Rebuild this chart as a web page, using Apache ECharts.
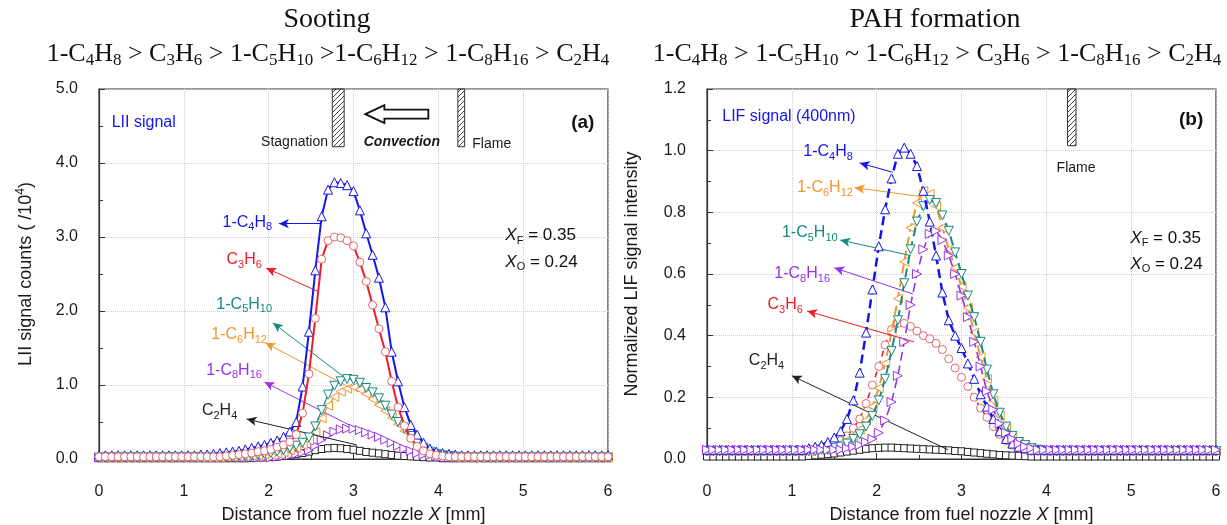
<!DOCTYPE html>
<html><head><meta charset="utf-8">
<script src="https://cdn.jsdelivr.net/npm/echarts@6/dist/echarts.min.js"></script>
<style>html,body{margin:0;padding:0;background:#fff}#chart{width:1227px;height:525px}</style>
</head><body><div id="chart"></div>
<script>
// Sampling positions along the burner axis [mm]
const positions = [0,0.075,0.15,0.225,0.3,0.375,0.45,0.525,0.6,0.675,
  0.75,0.825,0.9,0.975,1.05,1.125,1.2,1.275,1.35,1.425,
  1.5,1.575,1.65,1.725,1.8,1.875,1.95,2.025,2.1,2.175,
  2.25,2.325,2.4,2.475,2.55,2.625,2.7,2.775,2.85,2.925,
  3.0,3.075,3.15,3.225,3.3,3.375,3.45,3.525,3.6,3.675,
  3.75,3.825,3.9,3.975,4.05,4.125,4.2,4.275,4.35,4.425,
  4.5,4.575,4.65,4.725,4.8,4.875,4.95,5.025,5.1,5.175,
  5.25,5.325,5.4,5.475,5.55,5.625,5.7,5.775,5.85,5.925,
  6.0];

// (a) LII signal counts (/10^4)
const liiC4H8 = [0.05,0.05,0.05,0.05,0.05,0.05,0.05,0.05,0.05,0.05,
  0.05,0.05,0.05,0.05,0.05,0.05,0.06,0.06,0.07,0.08,
  0.09,0.10,0.11,0.13,0.15,0.17,0.19,0.22,0.25,0.30,
  0.37,0.50,0.98,1.72,2.55,3.28,3.64,3.74,3.73,3.70,
  3.62,3.36,3.05,2.76,2.45,2.05,1.45,1.05,0.70,0.46,
  0.33,0.22,0.14,0.10,0.08,0.07,0.06,0.05,0.05,0.05,
  0.05,0.05,0.05,0.05,0.05,0.05,0.05,0.05,0.05,0.05,
  0.05,0.05,0.05,0.05,0.05,0.05,0.05,0.05,0.05,0.05,
  0.05];
const liiC3H6 = [0.03,0.03,0.03,0.03,0.03,0.03,0.03,0.03,0.03,0.03,
  0.03,0.03,0.03,0.03,0.03,0.03,0.03,0.03,0.03,0.03,
  0.04,0.05,0.06,0.07,0.08,0.10,0.11,0.13,0.16,0.19,
  0.23,0.33,0.62,1.15,1.90,2.70,2.95,3.00,2.99,2.95,
  2.88,2.66,2.40,2.08,1.76,1.45,1.05,0.70,0.45,0.28,
  0.17,0.11,0.07,0.05,0.04,0.03,0.03,0.03,0.03,0.03,
  0.03,0.03,0.03,0.03,0.03,0.03,0.03,0.03,0.03,0.03,
  0.03,0.03,0.03,0.03,0.03,0.03,0.03,0.03,0.03,0.03,
  0.03];
const liiC5H10 = [0.02,0.02,0.02,0.02,0.02,0.02,0.02,0.02,0.02,0.02,
  0.02,0.02,0.02,0.02,0.02,0.02,0.02,0.02,0.02,0.02,
  0.03,0.03,0.04,0.04,0.05,0.06,0.07,0.08,0.10,0.12,
  0.15,0.18,0.22,0.29,0.44,0.66,0.87,0.99,1.05,1.08,
  1.07,1.03,0.96,0.90,0.82,0.72,0.60,0.50,0.41,0.31,
  0.22,0.15,0.10,0.07,0.05,0.04,0.03,0.02,0.02,0.02,
  0.02,0.02,0.02,0.02,0.02,0.02,0.02,0.02,0.02,0.02,
  0.02,0.02,0.02,0.02,0.02,0.02,0.02,0.02,0.02,0.02,
  0.02];
const liiC6H12 = [0.02,0.02,0.02,0.02,0.02,0.02,0.02,0.02,0.02,0.02,
  0.02,0.02,0.02,0.02,0.02,0.02,0.02,0.02,0.02,0.02,
  0.03,0.03,0.035,0.04,0.045,0.05,0.06,0.065,0.075,0.09,
  0.12,0.15,0.19,0.25,0.36,0.55,0.72,0.84,0.91,0.95,
  0.97,0.94,0.88,0.81,0.73,0.65,0.56,0.47,0.38,0.29,
  0.20,0.13,0.08,0.06,0.04,0.03,0.02,0.02,0.02,0.02,
  0.02,0.02,0.02,0.02,0.02,0.02,0.02,0.02,0.02,0.02,
  0.02,0.02,0.02,0.02,0.02,0.02,0.02,0.02,0.02,0.02,
  0.02];
const liiC8H16 = [0.02,0.02,0.02,0.02,0.02,0.02,0.02,0.02,0.02,0.02,
  0.02,0.02,0.02,0.02,0.02,0.02,0.02,0.02,0.02,0.02,
  0.02,0.02,0.02,0.02,0.02,0.02,0.02,0.02,0.03,0.04,
  0.05,0.07,0.09,0.12,0.18,0.26,0.32,0.37,0.40,0.41,
  0.41,0.39,0.36,0.33,0.30,0.26,0.22,0.18,0.14,0.11,
  0.08,0.06,0.05,0.04,0.03,0.02,0.02,0.02,0.02,0.02,
  0.02,0.02,0.02,0.02,0.02,0.02,0.02,0.02,0.02,0.02,
  0.02,0.02,0.02,0.02,0.02,0.02,0.02,0.02,0.02,0.02,
  0.02];
const liiC2H4 = [0.01,0.01,0.01,0.01,0.01,0.01,0.01,0.01,0.01,0.01,
  0.01,0.01,0.01,0.01,0.01,0.01,0.01,0.01,0.01,0.01,
  0.01,0.01,0.01,0.01,0.015,0.02,0.02,0.025,0.03,0.04,
  0.05,0.065,0.08,0.10,0.12,0.135,0.145,0.15,0.145,0.135,
  0.125,0.11,0.095,0.085,0.075,0.065,0.055,0.045,0.04,0.035,
  0.03,0.025,0.02,0.02,0.01,0.01,0.01,0.01,0.01,0.01,
  0.01,0.01,0.01,0.01,0.01,0.01,0.01,0.01,0.01,0.01,
  0.01,0.01,0.01,0.01,0.01,0.01,0.01,0.01,0.01,0.01,
  0.01];

// (b) Normalized LIF signal intensity (400 nm)
const lifC4H8 = [0.03,0.03,0.03,0.03,0.03,0.03,0.03,0.03,0.03,0.03,
  0.03,0.03,0.03,0.03,0.03,0.03,0.035,0.04,0.045,0.055,
  0.07,0.09,0.13,0.19,0.28,0.41,0.55,0.69,0.81,0.91,
  0.99,1.01,0.99,0.95,0.87,0.77,0.66,0.54,0.45,0.40,
  0.36,0.31,0.26,0.21,0.17,0.13,0.09,0.065,0.05,0.04,
  0.035,0.03,0.03,0.03,0.03,0.03,0.03,0.03,0.03,0.03,
  0.03,0.03,0.03,0.03,0.03,0.03,0.03,0.03,0.03,0.03,
  0.03,0.03,0.03,0.03,0.03,0.03,0.03,0.03,0.03,0.03,
  0.03];
const lifC6H12 = [0.025,0.025,0.025,0.025,0.025,0.025,0.025,0.025,0.025,0.025,
  0.025,0.025,0.025,0.025,0.025,0.025,0.025,0.03,0.03,0.035,
  0.04,0.05,0.06,0.075,0.095,0.125,0.17,0.23,0.31,0.41,
  0.52,0.64,0.75,0.83,0.87,0.86,0.82,0.75,0.68,0.62,
  0.56,0.49,0.41,0.33,0.26,0.19,0.14,0.10,0.07,0.055,
  0.045,0.035,0.03,0.025,0.025,0.025,0.025,0.025,0.025,0.025,
  0.025,0.025,0.025,0.025,0.025,0.025,0.025,0.025,0.025,0.025,
  0.025,0.025,0.025,0.025,0.025,0.025,0.025,0.025,0.025,0.025,
  0.025];
const lifC5H10 = [0.025,0.025,0.025,0.025,0.025,0.025,0.025,0.025,0.025,0.025,
  0.025,0.025,0.025,0.025,0.025,0.025,0.025,0.025,0.03,0.03,
  0.035,0.04,0.05,0.065,0.08,0.105,0.14,0.19,0.26,0.35,
  0.45,0.57,0.68,0.77,0.82,0.84,0.83,0.79,0.74,0.67,
  0.60,0.53,0.46,0.38,0.29,0.21,0.15,0.105,0.075,0.055,
  0.045,0.035,0.03,0.025,0.025,0.025,0.025,0.025,0.025,0.025,
  0.025,0.025,0.025,0.025,0.025,0.025,0.025,0.025,0.025,0.025,
  0.025,0.025,0.025,0.025,0.025,0.025,0.025,0.025,0.025,0.025,
  0.025];
const lifC8H16 = [0.03,0.03,0.03,0.03,0.03,0.03,0.03,0.03,0.03,0.03,
  0.03,0.03,0.03,0.03,0.03,0.03,0.03,0.03,0.03,0.03,
  0.03,0.03,0.035,0.04,0.045,0.055,0.065,0.085,0.125,0.185,
  0.27,0.38,0.50,0.60,0.68,0.73,0.74,0.71,0.66,0.60,
  0.53,0.46,0.38,0.30,0.22,0.16,0.115,0.085,0.065,0.05,
  0.04,0.035,0.03,0.03,0.03,0.03,0.03,0.03,0.03,0.03,
  0.03,0.03,0.03,0.03,0.03,0.03,0.03,0.03,0.03,0.03,
  0.03,0.03,0.03,0.03,0.03,0.03,0.03,0.03,0.03,0.03,
  0.03];
const lifC3H6 = [0.025,0.025,0.025,0.025,0.025,0.025,0.025,0.025,0.025,0.025,
  0.025,0.025,0.025,0.025,0.025,0.025,0.03,0.03,0.035,0.04,
  0.05,0.06,0.075,0.10,0.13,0.18,0.24,0.30,0.37,0.42,
  0.44,0.44,0.43,0.415,0.40,0.39,0.375,0.355,0.325,0.295,
  0.265,0.235,0.20,0.165,0.135,0.105,0.08,0.06,0.045,0.035,
  0.03,0.025,0.025,0.025,0.025,0.025,0.025,0.025,0.025,0.025,
  0.025,0.025,0.025,0.025,0.025,0.025,0.025,0.025,0.025,0.025,
  0.025,0.025,0.025,0.025,0.025,0.025,0.025,0.025,0.025,0.025,
  0.025];
const lifC2H4 = [0.008,0.008,0.008,0.008,0.008,0.008,0.008,0.008,0.008,0.008,
  0.008,0.008,0.008,0.008,0.008,0.008,0.01,0.012,0.014,0.016,
  0.018,0.021,0.024,0.027,0.03,0.033,0.035,0.036,0.037,0.037,
  0.036,0.035,0.034,0.033,0.032,0.031,0.03,0.029,0.028,0.026,
  0.025,0.023,0.021,0.019,0.017,0.015,0.013,0.012,0.011,0.01,
  0.009,0.008,0.008,0.008,0.008,0.008,0.008,0.008,0.008,0.008,
  0.008,0.008,0.008,0.008,0.008,0.008,0.008,0.008,0.008,0.008,
  0.008,0.008,0.008,0.008,0.008,0.008,0.008,0.008,0.008,0.008,
  0.008];

const SANS = '"Liberation Sans", Arial, sans-serif';
const SERIF = '"Liberation Serif", "Times New Roman", serif';
const BLUE = '#1616e8', RED = '#e8202a', RED_MK = '#e2686c', TEAL = '#178a82',
      ORANGE = '#f2952c', PURPLE = '#9634ea', BLACK = '#222222';

const pairs = vals => positions.map((x, i) => [x, vals[i]]);

function line(grid, name, vals, color, opts) {
  return {
    type: 'line', name, xAxisIndex: grid, yAxisIndex: grid,
    data: pairs(vals), showAllSymbol: true, silent: true, animation: false,
    symbol: opts.symbol, symbolSize: opts.size, symbolRotate: opts.rot || 0,
    itemStyle: { color: '#ffffff', borderColor: opts.markColor || color, borderWidth: 1 },
    lineStyle: { color, width: opts.width, type: opts.dash || 'solid' },
    emphasis: { disabled: true },
    z: opts.z,
    markLine: {
      silent: true, animation: false, symbol: ['none', 'arrow'], symbolSize: [7, 10],
      label: { show: false }, emphasis: { disabled: true },
      lineStyle: { color, width: 1, type: 'solid' },
      data: [[{ coord: opts.arrow[0] }, { coord: opts.arrow[1] }]]
    }
  };
}

const dash = [9, 5];
const series = [
  line(0, '1-C2H4', liiC2H4, BLACK, { symbol: 'rect', size: 7, width: 1, z: 2, arrow: [[3.04, 0.19], [1.74, 0.54]] }),
  line(0, '1-C8H16', liiC8H16, PURPLE, { symbol: 'triangle', rot: -90, size: 9, width: 1.2, z: 3, arrow: [[2.95, 0.46], [1.95, 1.04]] }),
  line(0, '1-C6H12', liiC6H12, ORANGE, { symbol: 'triangle', rot: 90, size: 9, width: 1.2, z: 4, arrow: [[2.95, 0.97], [1.96, 1.57]] }),
  line(0, '1-C5H10', liiC5H10, TEAL, { symbol: 'triangle', rot: 180, size: 9, width: 1.2, z: 5, arrow: [[2.92, 1.08], [2.05, 1.84]] }),
  line(0, '1-C4H8', liiC4H8, BLUE, { symbol: 'triangle', size: 9, width: 2, z: 6, arrow: [[2.62, 3.18], [2.12, 3.18]] }),
  line(0, 'C3H6', liiC3H6, RED, { symbol: 'circle', size: 8, width: 2, markColor: RED_MK, z: 7, arrow: [[2.59, 2.26], [1.97, 2.58]] }),

  line(1, 'C2H4', lifC2H4, BLACK, { symbol: 'rect', size: 7, width: 1.2, dash, z: 2, arrow: [[2.84, 0.03], [1.0, 0.27]] }),
  line(1, 'C3H6', lifC3H6, RED, { symbol: 'circle', size: 8, width: 1.6, dash: [6, 5], markColor: RED_MK, z: 3, arrow: [[2.44, 0.38], [1.18, 0.48]] }),
  line(1, '1-C6H12', lifC6H12, ORANGE, { symbol: 'triangle', rot: 90, size: 9, width: 2, dash, z: 4, arrow: [[2.55, 0.85], [1.74, 0.88]] }),
  line(1, '1-C5H10', lifC5H10, TEAL, { symbol: 'triangle', rot: 180, size: 9, width: 2, dash, z: 5, arrow: [[2.40, 0.66], [1.57, 0.71]] }),
  line(1, '1-C4H8', lifC4H8, BLUE, { symbol: 'triangle', size: 9, width: 2.5, dash, z: 6, arrow: [[2.19, 0.93], [1.80, 0.96]] }),
  line(1, '1-C8H16', lifC8H16, PURPLE, { symbol: 'triangle', rot: -90, size: 9, width: 1.6, dash, z: 7, arrow: [[2.43, 0.535], [1.50, 0.62]] })
];

const axisText = { fontFamily: SANS, fontSize: 16, color: '#1a1a1a' };
function xAxis(grid) {
  return {
    type: 'value', gridIndex: grid, min: 0, max: 6, interval: 1,
    axisLine: { show: true, lineStyle: { color: '#333', width: 1.2 } },
    axisTick: { show: true, inside: true, length: 6, lineStyle: { color: '#333' } },
    minorTick: { show: true, splitNumber: 2, length: 4, lineStyle: { color: '#333' } },
    axisLabel: Object.assign({ margin: 25 }, axisText),
    splitLine: { show: true, lineStyle: { color: '#cdcdcd', type: 'dotted', width: 1 } },
    name: '{n|Distance from fuel nozzle }{i|X}{n| [mm]}',
    nameLocation: 'middle', nameGap: 47,
    nameTextStyle: { rich: {
      n: { fontFamily: SANS, fontSize: 18, color: '#1a1a1a' },
      i: { fontFamily: SANS, fontSize: 18, fontStyle: 'italic', color: '#1a1a1a' } } }
  };
}
function yAxis(grid, max, interval, name, gap) {
  return {
    type: 'value', gridIndex: grid, min: 0, max, interval,
    axisLine: { show: true, lineStyle: { color: '#333', width: 1.2 } },
    axisTick: { show: true, inside: true, length: 6, lineStyle: { color: '#333' } },
    minorTick: { show: true, splitNumber: 2, length: 4, lineStyle: { color: '#333' } },
    axisLabel: Object.assign({ margin: 21, formatter: v => v.toFixed(1) }, axisText),
    splitLine: { show: true, lineStyle: { color: '#cdcdcd', type: 'dotted', width: 1 } },
    name, nameLocation: 'middle', nameGap: gap,
    nameTextStyle: { rich: {
      n: { fontFamily: SANS, fontSize: 18, color: '#1a1a1a' },
      sup: { fontFamily: SANS, fontSize: 12, color: '#1a1a1a', padding: [0, 0, 10, 0] } } }
  };
}

const chart = echarts.init(document.getElementById('chart'), null, { renderer: 'canvas' });
chart.setOption({
  animation: false,
  backgroundColor: '#ffffff',
  grid: [
    { left: 99, top: 89, width: 509, height: 370, show: true, borderColor: '#333', borderWidth: 1.2, outerBoundsMode: 'none', containLabel: false },
    { left: 707, top: 89, width: 509, height: 370, show: true, borderColor: '#333', borderWidth: 1.2, outerBoundsMode: 'none', containLabel: false }
  ],
  xAxis: [xAxis(0), xAxis(1)],
  yAxis: [
    yAxis(0, 5, 1, '{n|LII signal counts ( /10}{sup|4}{n|)}', 62),
    yAxis(1, 1.2, 0.2, '{n|Normalized LIF signal intensity}', 66)
  ],
  series
});

// ---- annotations (placed in data space of each panel) ----
const px = (g, x, y) => chart.convertToPixel({ gridIndex: g }, [x, y]);

function hatch() {
  const c = document.createElement('canvas');
  c.width = 5; c.height = 5;
  const g = c.getContext('2d');
  g.strokeStyle = '#333'; g.lineWidth = 0.9;
  g.beginPath();
  g.moveTo(-1, 6); g.lineTo(6, -1);
  g.moveTo(-1, 1); g.lineTo(1, -1);
  g.moveTo(4, 6); g.lineTo(6, 4);
  g.stroke();
  return c;
}
const pattern = { image: hatch(), repeat: 'repeat' };

function plate(g, x1, x2, yTop, yBot) {
  const a = px(g, x1, yTop), b = px(g, x2, yBot);
  return { type: 'rect', silent: true, z: 20,
    shape: { x: a[0], y: a[1], width: b[0] - a[0], height: b[1] - a[1] },
    style: { fill: pattern, stroke: '#333', lineWidth: 1 } };
}

const subLabel = (color, size) => ({
  n: { fontFamily: SANS, fontSize: size, fill: color },
  s: { fontFamily: SANS, fontSize: Math.round(size * 0.66), fill: color, padding: [Math.round(size * 0.6), 0, 0, 0] },
  i: { fontFamily: SANS, fontSize: size, fontStyle: 'italic', fill: color }
});

function label(g, x, y, text, color, opts = {}) {
  const p = px(g, x, y);
  const size = opts.size || 16;
  return { type: 'text', silent: true, z: 30, x: p[0], y: p[1],
    style: { text, fill: color, fontFamily: SANS, fontSize: size,
      fontWeight: opts.weight || 'normal', fontStyle: opts.style || 'normal',
      align: opts.align || 'left', verticalAlign: 'middle', rich: subLabel(color, size) } };
}

const graphics = [];
// panel (a)
graphics.push(plate(0, 2.75, 2.89, 5, 4.22));
graphics.push(plate(0, 4.23, 4.31, 5, 4.22));
{
  const t = px(0, 3.14, 4.66);
  const o = [[0, 0], [19, -9], [19, -4.5], [63, -4.5], [63, 4.5], [19, 4.5], [19, 9]];
  graphics.push({ type: 'polygon', silent: true, z: 20,
    shape: { points: o.map(q => [t[0] + q[0], t[1] + q[1]]) },
    style: { fill: '#fff', stroke: '#111', lineWidth: 1.8 } });
}
graphics.push(label(0, 2.70, 4.28, 'Stagnation', '#1a1a1a', { size: 14, align: 'right' }));
graphics.push(label(0, 3.57, 4.28, 'Convection', '#1a1a1a', { size: 14, align: 'center', weight: 'bold', style: 'italic' }));
graphics.push(label(0, 4.40, 4.26, 'Flame', '#1a1a1a', { size: 14 }));
graphics.push(label(0, 0.15, 4.54, 'LII signal', BLUE, { size: 16 }));
graphics.push(label(0, 5.84, 4.54, '(a)', '#111', { size: 19, align: 'right', weight: 'bold' }));
graphics.push(label(0, 4.79, 3.02, '{i|X}{s|F}{n| = 0.35}', '#111', { size: 17 }));
graphics.push(label(0, 4.79, 2.66, '{i|X}{s|O}{n| = 0.24}', '#111', { size: 17 }));
graphics.push(label(0, 2.04, 3.20, '{n|1-C}{s|4}{n|H}{s|8}', BLUE, { align: 'right' }));
graphics.push(label(0, 1.92, 2.69, '{n|C}{s|3}{n|H}{s|6}', RED, { align: 'right' }));
graphics.push(label(0, 2.04, 2.09, '{n|1-C}{s|5}{n|H}{s|10}', TEAL, { align: 'right' }));
graphics.push(label(0, 1.98, 1.68, '{n|1-C}{s|6}{n|H}{s|12}', ORANGE, { align: 'right' }));
graphics.push(label(0, 1.92, 1.20, '{n|1-C}{s|8}{n|H}{s|16}', PURPLE, { align: 'right' }));
graphics.push(label(0, 1.63, 0.65, '{n|C}{s|2}{n|H}{s|4}', BLACK, { align: 'right' }));
// panel (b)
graphics.push(plate(1, 4.25, 4.35, 1.2, 1.016));
graphics.push(label(1, 4.35, 0.944, 'Flame', '#1a1a1a', { size: 14, align: 'center' }));
graphics.push(label(1, 0.18, 1.11, 'LIF signal (400nm)', BLUE, { size: 16 }));
graphics.push(label(1, 5.85, 1.10, '(b)', '#111', { size: 19, align: 'right', weight: 'bold' }));
graphics.push(label(1, 4.99, 0.717, '{i|X}{s|F}{n| = 0.35}', '#111', { size: 17 }));
graphics.push(label(1, 4.99, 0.632, '{i|X}{s|O}{n| = 0.24}', '#111', { size: 17 }));
graphics.push(label(1, 1.72, 0.996, '{n|1-C}{s|4}{n|H}{s|8}', BLUE, { align: 'right' }));
graphics.push(label(1, 1.72, 0.880, '{n|1-C}{s|6}{n|H}{s|12}', ORANGE, { align: 'right' }));
graphics.push(label(1, 1.54, 0.733, '{n|1-C}{s|5}{n|H}{s|10}', TEAL, { align: 'right' }));
graphics.push(label(1, 1.45, 0.600, '{n|1-C}{s|8}{n|H}{s|16}', PURPLE, { align: 'right' }));
graphics.push(label(1, 1.13, 0.500, '{n|C}{s|3}{n|H}{s|6}', RED, { align: 'right' }));
graphics.push(label(1, 0.91, 0.318, '{n|C}{s|2}{n|H}{s|4}', BLACK, { align: 'right' }));

// panel headings (serif)
const serifRich = {
  n: { fontFamily: SERIF, fontSize: 26, fill: '#111' },
  s: { fontFamily: SERIF, fontSize: 17, fill: '#111', padding: [14, 0, 0, 0] }
};
function heading(x, y, text, size) {
  return { type: 'text', silent: true, z: 30, x, y,
    style: { text, fill: '#111', fontFamily: SERIF, fontSize: size, align: 'center', verticalAlign: 'middle', rich: serifRich } };
}
graphics.push(heading(327, 20, 'Sooting', 28));
graphics.push(heading(328, 54, '{n|1-C}{s|4}{n|H}{s|8}{n| > C}{s|3}{n|H}{s|6}{n| > 1-C}{s|5}{n|H}{s|10}{n| >1-C}{s|6}{n|H}{s|12}{n| > 1-C}{s|8}{n|H}{s|16}{n| > C}{s|2}{n|H}{s|4}', 26));
graphics.push(heading(935, 20, 'PAH formation', 28));
graphics.push(heading(937, 54, '{n|1-C}{s|4}{n|H}{s|8}{n| > 1-C}{s|5}{n|H}{s|10}{n| ~ 1-C}{s|6}{n|H}{s|12}{n| > C}{s|3}{n|H}{s|6}{n| > 1-C}{s|8}{n|H}{s|16}{n| > C}{s|2}{n|H}{s|4}', 26));

chart.setOption({ graphic: graphics });
</script></body></html>
